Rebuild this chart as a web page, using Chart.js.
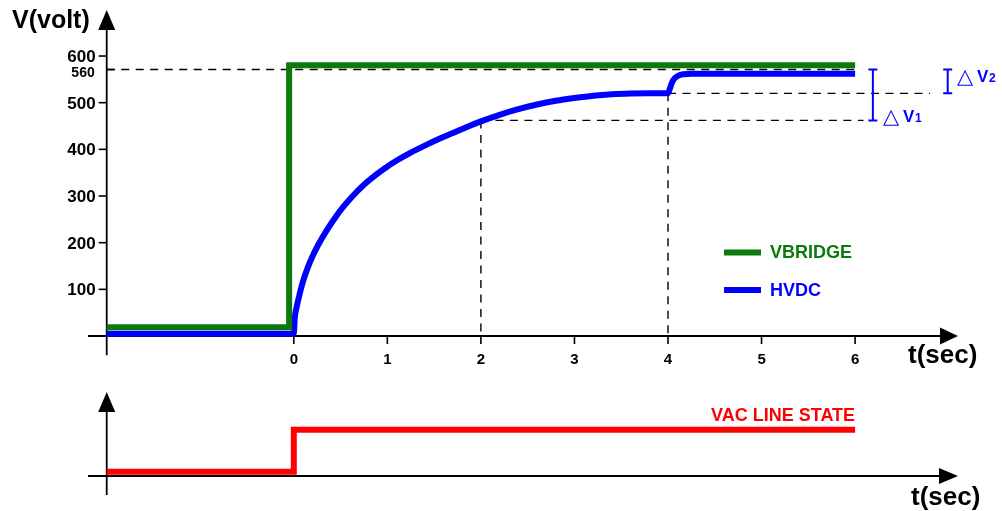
<!DOCTYPE html>
<html><head><meta charset="utf-8">
<script src="https://cdn.jsdelivr.net/npm/chart.js@4/dist/chart.umd.min.js"></script>
<style>html,body{margin:0;padding:0;background:#fff;overflow:hidden}canvas{display:block}</style>
</head><body>
<canvas id="c" width="1002" height="511"></canvas>
<script>
// ---- data ----
const timeTicks = [0, 1, 2, 3, 4, 5, 6];
const voltTicks = [100, 200, 300, 400, 500, 600];
const refTickValue = [571];
const refTickLabel = ['560'];

const vbridgeT = [-2, -0.05, -0.05, 6];
const vbridgeV = [19, 19, 580, 580];

const hvdcT = [-2, 0, 0.01, 0.03, 0.06, 0.1, 0.15, 0.2, 0.26, 0.35, 0.44, 0.53, 0.62, 0.75, 0.87, 0.97, 1.1, 1.25, 1.4, 1.55, 1.7, 1.85, 2.0, 2.2, 2.4, 2.6, 2.8, 3.0, 3.2, 3.4, 3.6, 3.8, 4.0, 4.02, 4.04, 4.07, 4.11, 4.17, 4.25, 6];
const hvdcV = [5, 5, 38, 62, 88, 118, 147, 171, 195, 226, 253, 277, 298, 324, 344, 359, 376, 393, 408, 422, 435, 448, 460, 474, 486, 496, 504, 510, 515, 518, 519.5, 520, 520, 530, 542, 552, 558, 561, 562, 562];

const vacT = [-2, 0, 0, 6];
const vacState = [0.1, 0.1, 1.1, 1.1];

const guideLevel = [571, 520, 462];
const guideStart = [-2, 4, 2];
const guideEnd = [6, 6.8, 6.09];
const dropT = [2, 4];
const dropV = [462, 520];

const deltaT = [6.19, 6.99];
const deltaLow = [462, 520];
const deltaHigh = [571, 571];
const deltaSub = ['1', '2'];

const seriesNames = ['VBRIDGE', 'HVDC'];
const stateName = 'VAC LINE STATE';

const GREEN = '#0b7a0b', BLUE = '#0000ff', RED = '#ff0000';
const FONT = '"Liberation Sans", Arial, sans-serif';

const pts = (T, V) => T.map((t, i) => ({x: t, y: V[i]}));

const drawPlugin = {
  id: 'drawing',
  beforeDatasetsDraw(chart) {
    const ctx = chart.ctx;
    const X = v => chart.scales.x.getPixelForValue(v);
    const Y = v => chart.scales.y.getPixelForValue(v);
    const Y2 = v => chart.scales.y2.getPixelForValue(v);
    const ca = chart.chartArea;
    ctx.save();
    ctx.strokeStyle = '#000'; ctx.fillStyle = '#000';
    ctx.lineWidth = 1.8;
    const ax = X(-2);
    // top y axis
    const yBottom = Y(-41), yTip = ca.top;
    ctx.beginPath(); ctx.moveTo(ax, yBottom); ctx.lineTo(ax, yTip + 18); ctx.stroke();
    ctx.beginPath(); ctx.moveTo(ax, yTip); ctx.lineTo(ax - 8.5, yTip + 20); ctx.lineTo(ax + 8.5, yTip + 20); ctx.closePath(); ctx.fill();
    // top x axis
    const y0 = Y(0), xTip = ca.right;
    ctx.beginPath(); ctx.moveTo(ca.left, y0); ctx.lineTo(xTip - 15, y0); ctx.stroke();
    ctx.beginPath(); ctx.moveTo(xTip, y0); ctx.lineTo(xTip - 18, y0 - 8.5); ctx.lineTo(xTip - 18, y0 + 8.5); ctx.closePath(); ctx.fill();
    // ticks
    ctx.lineWidth = 1.6;
    voltTicks.forEach(v => { ctx.beginPath(); ctx.moveTo(ax - 8, Y(v)); ctx.lineTo(ax, Y(v)); ctx.stroke(); });
    refTickValue.forEach(v => { ctx.beginPath(); ctx.moveTo(ax, Y(v)); ctx.lineTo(ax + 8, Y(v)); ctx.stroke(); });
    timeTicks.forEach(t => { ctx.beginPath(); ctx.moveTo(X(t), y0); ctx.lineTo(X(t), y0 + 8); ctx.stroke(); });
    // bottom axes
    ctx.lineWidth = 1.8;
    const b0 = Y2(0), bTip = Y2(2.0), bBottom = ca.bottom;
    ctx.beginPath(); ctx.moveTo(ax, bBottom); ctx.lineTo(ax, bTip + 18); ctx.stroke();
    ctx.beginPath(); ctx.moveTo(ax, bTip); ctx.lineTo(ax - 8.5, bTip + 20); ctx.lineTo(ax + 8.5, bTip + 20); ctx.closePath(); ctx.fill();
    ctx.beginPath(); ctx.moveTo(ca.left, b0); ctx.lineTo(xTip - 15, b0); ctx.stroke();
    ctx.beginPath(); ctx.moveTo(xTip, b0); ctx.lineTo(xTip - 19, b0 - 8); ctx.lineTo(xTip - 19, b0 + 8); ctx.closePath(); ctx.fill();
    // dashed guides
    ctx.lineWidth = 1.4;
    ctx.setLineDash([8, 6.5]);
    guideLevel.forEach((v, i) => {
      ctx.beginPath(); ctx.moveTo(X(guideStart[i]), Y(v)); ctx.lineTo(X(guideEnd[i]), Y(v)); ctx.stroke();
    });
    dropT.forEach((t, i) => {
      ctx.beginPath(); ctx.moveTo(X(t), Y(dropV[i])); ctx.lineTo(X(t), y0); ctx.stroke();
    });
    ctx.restore();
  },
  afterDatasetsDraw(chart) {
    const ctx = chart.ctx;
    const X = v => chart.scales.x.getPixelForValue(v);
    const Y = v => chart.scales.y.getPixelForValue(v);
    const Y2 = v => chart.scales.y2.getPixelForValue(v);
    const ax = X(-2);
    ctx.save();
    ctx.fillStyle = '#000';
    // y tick labels
    ctx.textAlign = 'right'; ctx.textBaseline = 'alphabetic';
    ctx.font = 'bold 17px ' + FONT;
    voltTicks.forEach(v => ctx.fillText(String(v), ax - 11, Y(v) + 6));
    ctx.font = 'bold 14px ' + FONT;
    refTickValue.forEach((v, i) => ctx.fillText(refTickLabel[i], ax - 12, Y(v) + 7));
    // x tick labels
    ctx.textAlign = 'center';
    ctx.font = 'bold 15px ' + FONT;
    timeTicks.forEach(t => ctx.fillText(String(t), X(t), Y(0) + 28));
    // axis titles
    ctx.textAlign = 'left';
    ctx.font = 'bold 25px ' + FONT;
    ctx.fillText('V(volt)', 12, 28);
    ctx.font = 'bold 26px ' + FONT;
    ctx.fillText('t(sec)', 908, Y(0) + 27);
    ctx.fillText('t(sec)', 911, Y2(0) + 29);
    // legend
    const leg = [[GREEN, 252.5, 258], [BLUE, 290, 296]];
    ctx.font = 'bold 18px ' + FONT;
    leg.forEach((l, i) => {
      ctx.strokeStyle = l[0]; ctx.lineWidth = 6;
      ctx.beginPath(); ctx.moveTo(724, l[1]); ctx.lineTo(761, l[1]); ctx.stroke();
      ctx.fillStyle = l[0];
      ctx.fillText(seriesNames[i], 770, l[2]);
    });
    // state label
    ctx.fillStyle = RED; ctx.textAlign = 'right';
    ctx.fillText(stateName, X(6), Y2(1.1) - 9);
    // delta brackets
    ctx.strokeStyle = BLUE; ctx.fillStyle = BLUE; ctx.lineWidth = 2;
    deltaT.forEach((t, i) => {
      const x = X(t), yl = Y(deltaLow[i]), yh = Y(deltaHigh[i]);
      ctx.beginPath();
      ctx.moveTo(x, yh); ctx.lineTo(x, yl);
      ctx.moveTo(x - 4.5, yh); ctx.lineTo(x + 4.5, yh);
      ctx.moveTo(x - 4.5, yl); ctx.lineTo(x + 4.5, yl);
      ctx.stroke();
    });
    const dl = [[884, 122], [958, 82]];
    dl.forEach((p, i) => {
      ctx.textAlign = 'left';
      ctx.font = 'bold 21px "DejaVu Sans", sans-serif';
      ctx.fillText('\u25B3', p[0] - 1, p[1] + 1);
      ctx.font = 'bold 17px ' + FONT;
      ctx.fillText('V', p[0] + 19, p[1]);
      ctx.font = 'bold 12px ' + FONT;
      ctx.fillText(deltaSub[i], p[0] + 31, p[1]);
    });
    ctx.restore();
  }
};

new Chart(document.getElementById('c'), {
  type: 'line',
  data: {
    datasets: [
      {label: 'VBRIDGE', data: pts(vbridgeT, vbridgeV), yAxisID: 'y', borderColor: GREEN, borderWidth: 6, tension: 0, borderJoinStyle: 'miter', borderCapStyle: 'butt', pointRadius: 0, fill: false},
      {label: 'HVDC', data: pts(hvdcT, hvdcV), yAxisID: 'y', borderColor: BLUE, borderWidth: 6, cubicInterpolationMode: 'monotone', borderJoinStyle: 'round', borderCapStyle: 'butt', pointRadius: 0, fill: false},
      {label: 'VAC LINE STATE', data: pts(vacT, vacState), yAxisID: 'y2', borderColor: RED, borderWidth: 6, tension: 0, borderJoinStyle: 'miter', borderCapStyle: 'butt', pointRadius: 0, fill: false}
    ]
  },
  options: {
    responsive: false,
    animation: false,
    events: [],
    layout: {padding: {left: 88, right: 44, top: 10, bottom: 16}},
    scales: {
      x: {type: 'linear', min: -2.2, max: 7.1, display: false},
      y: {type: 'linear', min: -340.7, max: 698.6, display: false},
      y2: {type: 'linear', min: -0.452, max: 11.095, display: false}
    },
    plugins: {legend: {display: false}, tooltip: {enabled: false}}
  },
  plugins: [drawPlugin]
});
</script>
</body></html>
